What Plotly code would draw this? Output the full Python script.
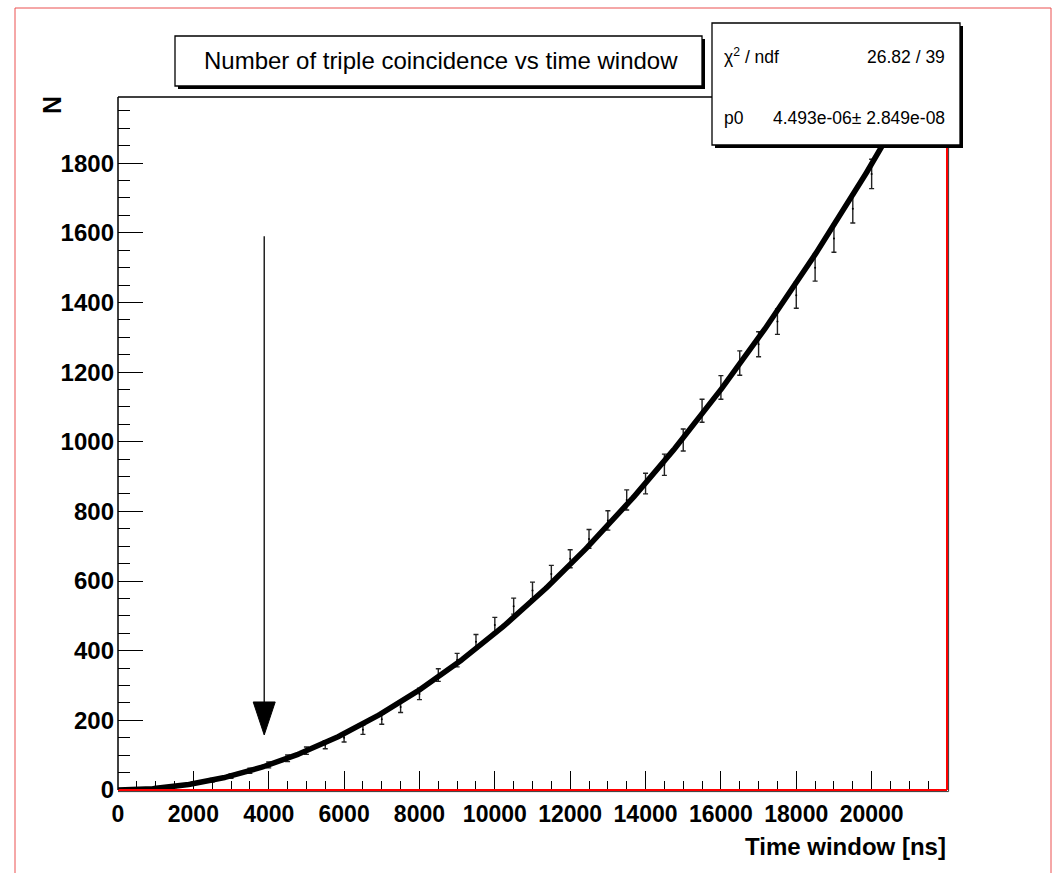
import numpy as np
import plotly.graph_objects as go

# ---------------- data ----------------
time_window = [500, 1000, 1500, 2000, 2500, 3000, 3500, 4000, 4500, 5000,
               5500, 6000, 6500, 7000, 7500, 8000, 8500, 9000, 9500, 10000,
               10500, 11000, 11500, 12000, 12500, 13000, 13500, 14000, 14500, 15000,
               15500, 16000, 16500, 17000, 17500, 18000, 18500, 19000, 19500, 20000]
counts = [1, 5, 10, 18, 28, 40, 55, 72, 91, 113,
          130, 150, 173, 203, 238, 276, 330, 373, 426, 474,
          528, 573, 620, 664, 721, 774, 833, 880, 934, 1005,
          1089, 1156, 1226, 1280, 1345, 1421, 1500, 1584, 1669, 1769]
count_err = [1.0, 2.2, 3.2, 4.2, 5.3, 6.3, 7.4, 8.5, 9.5, 10.6,
             11.4, 12.2, 13.2, 14.2, 15.4, 16.6, 18.2, 19.3, 20.6, 21.8,
             23.0, 23.9, 24.9, 25.8, 26.9, 27.8, 28.9, 29.7, 30.6, 31.7,
             33.0, 34.0, 35.0, 35.8, 36.7, 37.7, 38.7, 39.8, 40.9, 42.1]
fit_p0 = 4.493e-06
fit_p0_err = 2.849e-08
chi2_text = "26.82 / 39"

x_tick_vals = [0, 2000, 4000, 6000, 8000, 10000, 12000, 14000, 16000, 18000, 20000]
x_tick_text = ["0", "2000", "4000", "6000", "8000", "10000", "12000", "14000", "16000", "18000", "20000"]
y_tick_vals = [0, 200, 400, 600, 800, 1000, 1200, 1400, 1600, 1800]
y_tick_text = ["0", "200", "400", "600", "800", "1000", "1200", "1400", "1600", "1800"]

title_text = "Number of triple coincidence vs time window"
x_title = "Time window [ns]"
y_title = "N"

X_RANGE = [0, 22000]
Y_RANGE = [0, 1990]

# arrow annotation (data coords)
ARROW_X = 3880
ARROW_TOP = 1590
ARROW_TIP = 158

# ---------------- layout geometry ----------------
W, H = 1053, 873
ML, MR, MT, MB = 118, 106, 97, 83
PW = W - ML - MR
PH = H - MT - MB

def px_x(px):
    return (px - ML) / PW

def px_y(py):
    return (H - MB - py) / PH

FONT = "Liberation Sans, Arial, Helvetica, sans-serif"

fig = go.Figure()

# data with error bars
fig.add_trace(go.Scatter(
    x=time_window, y=counts, mode="markers",
    marker=dict(size=2, color="black"),
    error_y=dict(type="data", array=count_err, visible=True,
                 color="#222222", thickness=1.4, width=2.5),
    showlegend=False, cliponaxis=True,
))

# fitted curve p0 * x^2
xf = np.linspace(0, X_RANGE[1], 600)
fig.add_trace(go.Scatter(
    x=xf, y=fit_p0 * xf ** 2, mode="lines",
    line=dict(color="black", width=5.5),
    showlegend=False,
))

shapes = []
# outer red canvas border
shapes.append(dict(type="rect", xref="paper", yref="paper",
                   x0=px_x(15), x1=px_x(1051), y0=px_y(8), y1=px_y(880),
                   line=dict(color="rgb(235,80,80)", width=1), fillcolor="rgba(0,0,0,0)",
                   layer="below"))
# frame top (black)
shapes.append(dict(type="line", xref="paper", yref="paper", x0=0, x1=1, y0=1, y1=1,
                   line=dict(color="black", width=1.5), layer="above"))
# frame bottom & right (red, with dark outline)
shapes.append(dict(type="line", xref="paper", yref="paper", x0=0, x1=1 + 1.5 / PW,
                   y0=-1.6 / PH, y1=-1.6 / PH,
                   line=dict(color="#333333", width=1), layer="above"))
shapes.append(dict(type="line", xref="paper", yref="paper", x0=1 + 1.6 / PW, x1=1 + 1.6 / PW,
                   y0=-1.6 / PH, y1=1,
                   line=dict(color="#333333", width=1), layer="above"))
shapes.append(dict(type="line", xref="paper", yref="paper", x0=0, x1=1, y0=0, y1=0,
                   line=dict(color="red", width=2), layer="above"))
shapes.append(dict(type="line", xref="paper", yref="paper", x0=1, x1=1, y0=0, y1=1,
                   line=dict(color="red", width=2), layer="above"))
# left axis (black)
shapes.append(dict(type="line", xref="paper", yref="paper", x0=0, x1=0, y0=0, y1=1,
                   line=dict(color="black", width=1.5), layer="above"))

# arrow: shaft + triangular head
head_half_w = 11 / PW * (X_RANGE[1] - X_RANGE[0])
head_len = 33 / PH * (Y_RANGE[1] - Y_RANGE[0])
shapes.append(dict(type="line", xref="x", yref="y", x0=ARROW_X, x1=ARROW_X,
                   y0=ARROW_TOP, y1=ARROW_TIP + head_len * 0.5,
                   line=dict(color="black", width=1.3), layer="above"))
shapes.append(dict(type="path", xref="x", yref="y",
                   path=f"M {ARROW_X - head_half_w} {ARROW_TIP + head_len} "
                        f"L {ARROW_X + head_half_w} {ARROW_TIP + head_len} "
                        f"L {ARROW_X} {ARROW_TIP} Z",
                   fillcolor="black", line=dict(color="black", width=1), layer="above"))

# title box (shadow + box)
tb = (175, 36, 702, 86)
shapes.append(dict(type="rect", xref="paper", yref="paper",
                   x0=px_x(tb[0] + 3), x1=px_x(tb[2] + 3), y0=px_y(tb[3] + 3), y1=px_y(tb[1] + 3),
                   fillcolor="black", line=dict(width=0), layer="above"))
shapes.append(dict(type="rect", xref="paper", yref="paper",
                   x0=px_x(tb[0]), x1=px_x(tb[2]), y0=px_y(tb[3]), y1=px_y(tb[1]),
                   fillcolor="white", line=dict(color="black", width=1.3), layer="above"))

# stats box (shadow + box)
sb = (712, 23, 960, 145)
shapes.append(dict(type="rect", xref="paper", yref="paper",
                   x0=px_x(sb[0] + 3), x1=px_x(sb[2] + 3), y0=px_y(sb[3] + 3), y1=px_y(sb[1] + 3),
                   fillcolor="black", line=dict(width=0), layer="above"))
shapes.append(dict(type="rect", xref="paper", yref="paper",
                   x0=px_x(sb[0]), x1=px_x(sb[2]), y0=px_y(sb[3]), y1=px_y(sb[1]),
                   fillcolor="white", line=dict(color="black", width=1.3), layer="above"))

annotations = []
annotations.append(dict(text=title_text, xref="paper", yref="paper",
                        x=px_x((tb[0] + tb[2]) / 2 + 2), y=px_y((tb[1] + tb[3]) / 2),
                        xanchor="center", yanchor="middle", showarrow=False,
                        font=dict(family=FONT, size=24, color="black")))
stats_font = dict(family=FONT, size=17.5, color="black")
annotations.append(dict(text="χ<sup>2</sup> / ndf", xref="paper", yref="paper",
                        x=px_x(722), y=px_y(56), xanchor="left", yanchor="middle",
                        showarrow=False, font=stats_font))
annotations.append(dict(text=chi2_text, xref="paper", yref="paper",
                        x=px_x(947), y=px_y(57), xanchor="right", yanchor="middle",
                        showarrow=False, font=stats_font))
annotations.append(dict(text="p0", xref="paper", yref="paper",
                        x=px_x(722), y=px_y(118), xanchor="left", yanchor="middle",
                        showarrow=False, font=stats_font))
annotations.append(dict(text=f"{fit_p0:.3e}± {fit_p0_err:.3e}", xref="paper", yref="paper",
                        x=px_x(947), y=px_y(118), xanchor="right", yanchor="middle",
                        showarrow=False, font=stats_font))
annotations.append(dict(text=x_title, xref="paper", yref="paper",
                        x=px_x(948), y=px_y(846), xanchor="right", yanchor="middle",
                        showarrow=False, font=dict(family=FONT, size=24, color="black", weight="bold")))
annotations.append(dict(text=y_title, xref="paper", yref="paper",
                        x=px_x(52), y=px_y(105), xanchor="center", yanchor="middle",
                        textangle=-90, showarrow=False,
                        font=dict(family=FONT, size=25, color="black", weight="bold")))

fig.update_layout(
    width=W, height=H, autosize=False,
    margin=dict(l=ML, r=MR, t=MT, b=MB, pad=0),
    paper_bgcolor="white", plot_bgcolor="white",
    showlegend=False,
    shapes=shapes, annotations=annotations,
    xaxis=dict(range=X_RANGE, showgrid=False, zeroline=False, showline=False,
               tickmode="array", tickvals=x_tick_vals, ticktext=x_tick_text,
               ticks="inside", ticklen=19, tickwidth=1.3, tickcolor="black",
               minor=dict(dtick=500, tick0=0, ticks="inside", ticklen=9, tickwidth=1.3,
                          tickcolor="black", showgrid=False),
               tickangle=0,
               tickfont=dict(family=FONT, size=23, color="black", weight="bold"),
               ticklabelstandoff=8),
    yaxis=dict(range=Y_RANGE, showgrid=False, zeroline=False, showline=False,
               tickmode="array", tickvals=y_tick_vals, ticktext=y_tick_text,
               ticks="inside", ticklen=25, tickwidth=1.3, tickcolor="black",
               minor=dict(dtick=50, tick0=0, ticks="inside", ticklen=12, tickwidth=1.3,
                          tickcolor="black", showgrid=False),
               tickfont=dict(family=FONT, size=24, color="black", weight="bold"),
               ticklabelstandoff=3),
)

fig.write_html("out.html")
